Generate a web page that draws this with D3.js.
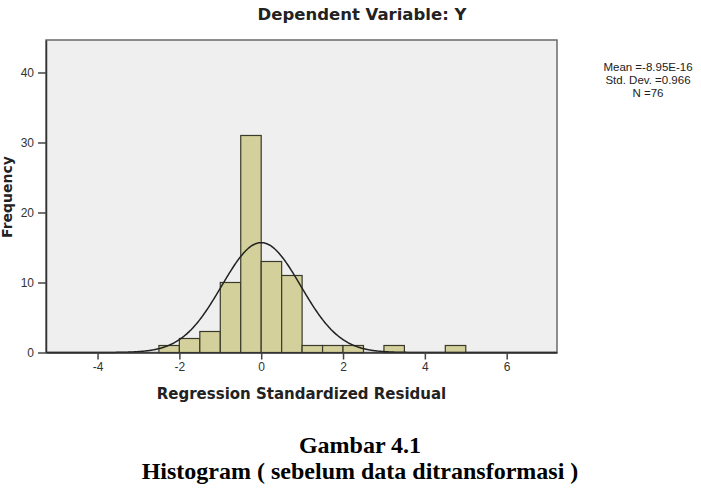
<!DOCTYPE html>
<html>
<head>
<meta charset="utf-8">
<script src="https://cdn.jsdelivr.net/npm/d3@7"></script>
<style>
  body { margin: 0; background: #fff; }
  svg text { fill: #222; }
</style>
</head>
<body>
<div id="chartArea"></div>
<script>
// histogram bins (lower edge of each 0.5 wide bin) and their counts
var binStarts = [-2.5, -2, -1.5, -1, -0.5, 0, 0.5, 1, 1.5, 2, 3, 4.5];
var binCounts = [1, 2, 3, 10, 31, 13, 11, 1, 1, 1, 1, 1];
var binWidth = 0.5;

var xTicks = [-4, -2, 0, 2, 4, 6];
var yTicks = [0, 10, 20, 30, 40];

var statLines = ['Mean =-8.95E-16', 'Std. Dev. =0.966', 'N =76'];
var mean = -8.95e-16, sd = 0.966, n = 76;

var width = 701, height = 492;
var plot = {left: 46, right: 557, top: 40, bottom: 352.5};

var svg = d3.select('#chartArea').append('svg')
    .attr('width', width)
    .attr('height', height);

var xScale = d3.scaleLinear()
    .domain([-5.26, 7.23])
    .range([plot.left, plot.right]);

var yScale = d3.scaleLinear()
    .domain([0, 44.64])
    .range([plot.bottom, plot.top]);

// plot background
svg.append('rect')
    .attr('x', plot.left)
    .attr('y', plot.top)
    .attr('width', plot.right - plot.left)
    .attr('height', plot.bottom - plot.top)
    .attr('fill', '#efefef')
    .attr('stroke', '#6a6a6a')
    .attr('stroke-width', 1.5);

// bars
var bars = binStarts.map(function (s, i) {
    return {x0: s, x1: s + binWidth, count: binCounts[i]};
});

svg.selectAll('rect.bar')
    .data(bars)
    .enter()
    .append('rect')
    .attr('class', 'bar')
    .attr('x', function (d) { return xScale(d.x0); })
    .attr('y', function (d) { return yScale(d.count); })
    .attr('width', function (d) { return xScale(d.x1) - xScale(d.x0); })
    .attr('height', function (d) { return yScale(0) - yScale(d.count); })
    .attr('fill', '#d4d09b')
    .attr('stroke', '#3a3a2a')
    .attr('stroke-width', 1.2);

// fitted normal curve (scaled to counts)
var curveX = d3.range(xScale.domain()[0], xScale.domain()[1], 0.02);
var curvePts = curveX.map(function (x) {
    var z = (x - mean) / sd;
    return [x, n * binWidth * Math.exp(-0.5 * z * z) / (sd * Math.sqrt(2 * Math.PI))];
});

var line = d3.line()
    .x(function (d) { return xScale(d[0]); })
    .y(function (d) { return yScale(d[1]); })
    .curve(d3.curveBasis);

svg.append('path')
    .datum(curvePts)
    .attr('d', line)
    .attr('fill', 'none')
    .attr('stroke', '#222')
    .attr('stroke-width', 1.5);

// axes
var plainFmt = function (d) { return String(d); };
var xAxis = d3.axisBottom(xScale).tickValues(xTicks)
    .tickSizeInner(7).tickSizeOuter(0).tickPadding(3)
    .tickFormat(plainFmt);
var yAxis = d3.axisLeft(yScale).tickValues(yTicks)
    .tickSizeInner(8).tickSizeOuter(0).tickPadding(4)
    .tickFormat(plainFmt);

var gx = svg.append('g')
    .attr('class', 'x-axis')
    .attr('transform', 'translate(0, ' + plot.bottom + ')')
    .call(xAxis);

var gy = svg.append('g')
    .attr('class', 'y-axis')
    .attr('transform', 'translate(' + plot.left + ', 0)')
    .call(yAxis);

[gx, gy].forEach(function (g) {
    g.select('.domain').attr('stroke', '#333').attr('stroke-width', 1.5);
    g.selectAll('.tick line').attr('stroke', '#444').attr('stroke-width', 1.5);
    g.selectAll('.tick text')
        .attr('font-family', 'Liberation Sans, Arial, sans-serif')
        .attr('font-size', 12)
        .style('fill', '#333');
});

// titles
svg.append('text')
    .attr('x', 362)
    .attr('y', 20)
    .attr('text-anchor', 'middle')
    .attr('font-family', 'DejaVu Sans, sans-serif')
    .attr('font-weight', 'bold')
    .attr('font-size', 16.5)
    .text('Dependent Variable: Y');

svg.append('text')
    .attr('x', (plot.left + plot.right) / 2)
    .attr('y', 399)
    .attr('text-anchor', 'middle')
    .attr('font-family', 'DejaVu Sans, sans-serif')
    .attr('font-weight', 'bold')
    .attr('font-size', 15)
    .text('Regression Standardized Residual');

svg.append('text')
    .attr('transform', 'translate(12, 197) rotate(-90)')
    .attr('text-anchor', 'middle')
    .attr('font-family', 'DejaVu Sans, sans-serif')
    .attr('font-weight', 'bold')
    .attr('font-size', 14)
    .text('Frequency');

// stats box
svg.selectAll('text.stat')
    .data(statLines)
    .enter()
    .append('text')
    .attr('class', 'stat')
    .attr('x', 648)
    .attr('y', function (d, i) { return 71 + i * 13; })
    .attr('text-anchor', 'middle')
    .attr('font-family', 'Liberation Sans, Arial, sans-serif')
    .attr('font-size', 11.5)
    .text(function (d) { return d; });

// figure caption
svg.append('text')
    .attr('x', 360)
    .attr('y', 453)
    .attr('text-anchor', 'middle')
    .attr('font-family', 'Liberation Serif, Times New Roman, serif')
    .attr('font-weight', 'bold')
    .attr('font-size', 24)
    .style('fill', '#000')
    .text('Gambar 4.1');

svg.append('text')
    .attr('x', 360)
    .attr('y', 479)
    .attr('text-anchor', 'middle')
    .attr('font-family', 'Liberation Serif, Times New Roman, serif')
    .attr('font-weight', 'bold')
    .attr('font-size', 24)
    .style('fill', '#000')
    .text('Histogram ( sebelum data ditransformasi )');
</script>
</body>
</html>
